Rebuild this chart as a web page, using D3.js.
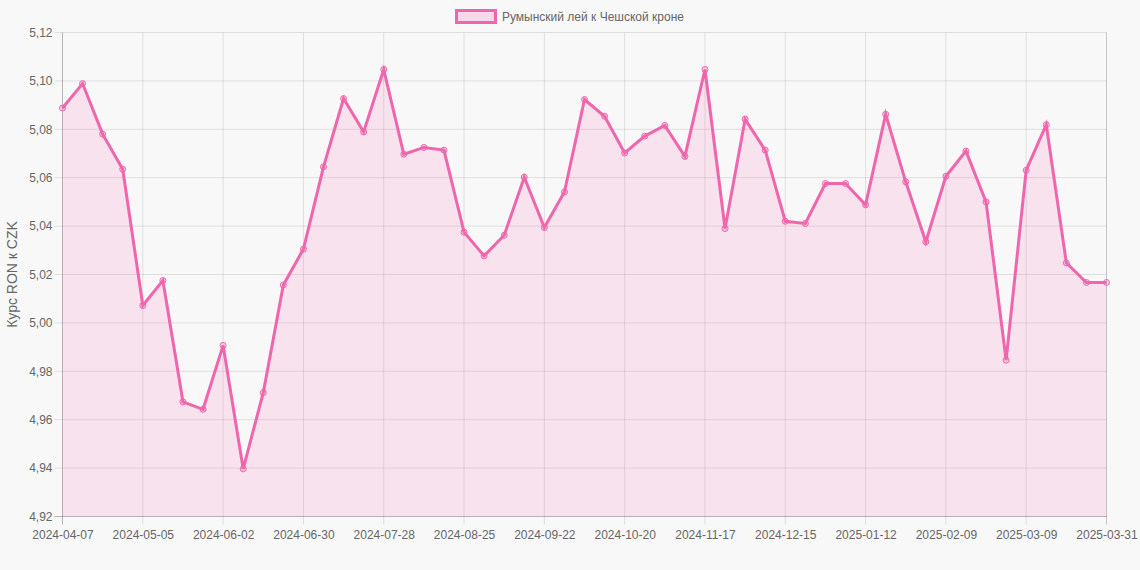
<!DOCTYPE html>
<html>
<head>
<meta charset="utf-8">
<script src="https://cdn.jsdelivr.net/npm/d3@7"></script>
<style>
  html, body { margin: 0; padding: 0; background: #f8f8f8; }
  svg { display: block; font-family: "Liberation Sans", Arial, sans-serif; }
</style>
</head>
<body>
<svg id="chart" width="1140" height="570"></svg>
<script>
const seriesName = "Румынский лей к Чешской кроне";
const yTitle = "Курс RON к CZK";
const startDate = "2024-04-07";
const lastDate = "2025-03-31";
const values = [
  5.0888, 5.0989, 5.0780, 5.0635, 5.0072, 5.0175, 4.9674, 4.9643, 4.9907, 4.9397,
  4.9712, 5.0157, 5.0305, 5.0645, 5.0927, 5.0789, 5.1047, 5.0697, 5.0725, 5.0714,
  5.0375, 5.0277, 5.0362, 5.0602, 5.0394, 5.0541, 5.0923, 5.0854, 5.0702, 5.0772,
  5.0816, 5.0688, 5.1047, 5.0390, 5.0842, 5.0714, 5.0420, 5.0411, 5.0576, 5.0576,
  5.0488, 5.0862, 5.0583, 5.0335, 5.0606, 5.0710, 5.0500, 4.9846, 5.0631, 5.0819,
  5.0248, 5.0167, 5.0167
];
const yTicks = [4.92, 4.94, 4.96, 4.98, 5.00, 5.02, 5.04, 5.06, 5.08, 5.10, 5.12];

(function () {
// category labels: weekly dates, then the final date
const fmt = d3.utcFormat("%Y-%m-%d");
const start = new Date(startDate + "T00:00:00Z");
const labels = values.map((v, i) => i === values.length - 1 ? lastDate : fmt(d3.utcDay.offset(start, 7 * i)));
const tickLabels = labels.filter((d, i) => i % 4 === 0);

const color = "#ef66ac";
const fillColor = "rgba(239,102,172,0.15)";

const svg = d3.select("#chart");
const pL = 62.5, pR = 1106.5, pT = 32.5, pB = 516.5;

const x = d3.scalePoint().domain(labels).range([pL, pR]);
const y = d3.scaleLinear().domain([4.92, 5.12]).range([pB, pT]);

// gridlines
const grid = svg.append("g");
grid.selectAll("line.v").data(tickLabels).join("line")
  .attr("x1", d => x(d)).attr("x2", d => x(d))
  .attr("y1", pT).attr("y2", pB + 8)
  .attr("stroke", "rgba(0,0,0,0.1)").attr("stroke-width", 1);
grid.append("line")
  .attr("x1", pR).attr("x2", pR).attr("y1", pT).attr("y2", pB + 8)
  .attr("stroke", "rgba(0,0,0,0.1)");
grid.selectAll("line.h").data(yTicks).join("line")
  .attr("x1", pL - 8).attr("x2", pR)
  .attr("y1", d => y(d)).attr("y2", d => y(d))
  .attr("stroke", "rgba(0,0,0,0.1)").attr("stroke-width", 1);

// axes (labels only, via d3 axes)
const xAxis = d3.axisBottom(x).tickValues(tickLabels).tickSize(0).tickPadding(0);
const gx = svg.append("g").attr("transform", `translate(0,${pB})`).call(xAxis);
gx.select(".domain").remove();
gx.selectAll("text").attr("dy", null).attr("y", 22).attr("font-size", 12).attr("fill", "#666")
  .attr("font-family", "Liberation Sans, Arial, sans-serif");

const yAxis = d3.axisLeft(y).tickValues(yTicks).tickSize(0).tickPadding(0)
  .tickFormat(d => d3.format(".2f")(d).replace(".", ","));
const gy = svg.append("g").attr("transform", `translate(${pL},0)`).call(yAxis);
gy.select(".domain").remove();
gy.selectAll("text").attr("x", -10).attr("font-size", 12).attr("fill", "#666")
  .attr("font-family", "Liberation Sans, Arial, sans-serif");

// axis lines
svg.append("line").attr("x1", pL).attr("x2", pL).attr("y1", pT).attr("y2", pB + 8)
  .attr("stroke", "rgba(0,0,0,0.18)");
svg.append("line").attr("x1", pL - 8).attr("x2", pR).attr("y1", pB).attr("y2", pB)
  .attr("stroke", "rgba(0,0,0,0.18)");

// y title
svg.append("text")
  .attr("transform", `translate(17,${(pT + pB) / 2}) rotate(-90)`)
  .attr("text-anchor", "middle").attr("font-size", 14).attr("fill", "#666")
  .text(yTitle);

// area + line
const data = values.map((v, i) => ({ k: labels[i], v }));
svg.append("path").datum(data)
  .attr("d", d3.area().x(d => x(d.k)).y0(pB).y1(d => y(d.v)))
  .attr("fill", fillColor);
svg.append("path").datum(data)
  .attr("d", d3.line().x(d => x(d.k)).y(d => y(d.v)))
  .attr("fill", "none").attr("stroke", color).attr("stroke-width", 3)
  .attr("stroke-linejoin", "miter");
svg.append("g").selectAll("circle").data(data).join("circle")
  .attr("cx", d => x(d.k)).attr("cy", d => y(d.v)).attr("r", 3)
  .attr("fill", "rgba(239,102,172,0.25)").attr("stroke", color).attr("stroke-width", 1);

// legend
const lg = svg.append("g");
lg.append("rect").attr("x", 456.5).attr("y", 10.5).attr("width", 39).attr("height", 12)
  .attr("fill", "rgba(239,102,172,0.2)").attr("stroke", color).attr("stroke-width", 3);
lg.append("text").attr("x", 502).attr("y", 20.5).attr("font-size", 12).attr("fill", "#666")
  .text(seriesName);
})();
</script>
</body>
</html>
